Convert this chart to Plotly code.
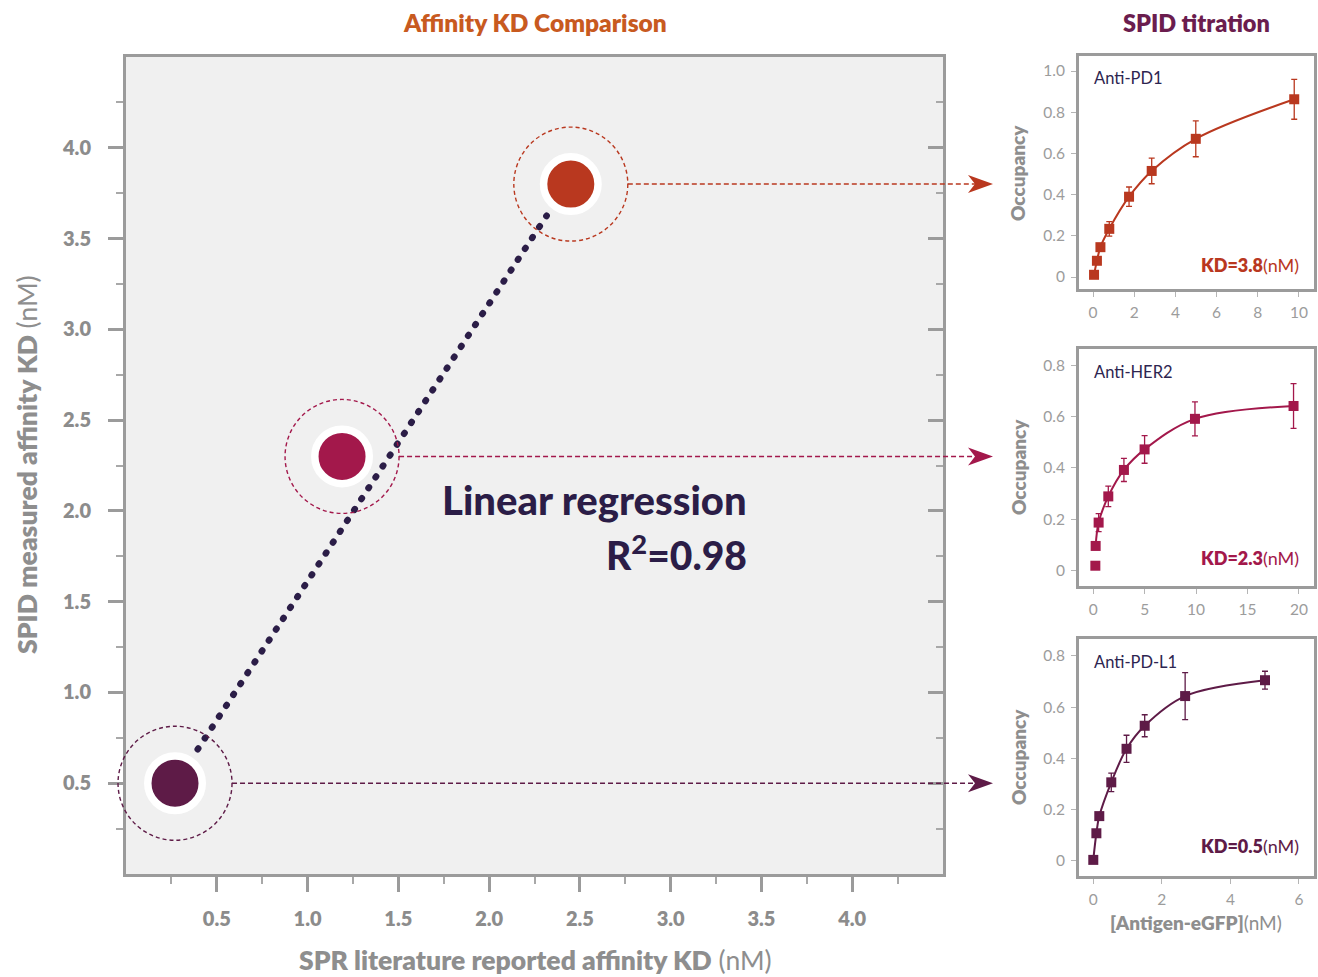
import plotly.graph_objects as go

W, H = 1318, 977

# ---------------- data ----------------
antibodies = ["Anti-PD-L1", "Anti-HER2", "Anti-PD1"]
spr_kd = [0.27, 1.19, 2.45]          # SPR literature KD (nM)
spid_kd = [0.5, 2.3, 3.8]            # SPID measured KD (nM)
point_colors = ["#5e1b47", "#a3184b", "#b9381f"]

reg_x = [0.395, 2.317]               # regression line ends (nM)
reg_y = [0.687, 3.626]
r2_text = "0.98"

main_ticks = [0.5, 1.0, 1.5, 2.0, 2.5, 3.0, 3.5, 4.0]
main_tick_text = ["0.5", "1.0", "1.5", "2.0", "2.5", "3.0", "3.5", "4.0"]
main_minor = [0.25, 0.75, 1.25, 1.75, 2.25, 2.75, 3.25, 3.75, 4.25]

# SPID titrations
pd1_conc = [0.05, 0.19, 0.36, 0.79, 1.75, 2.85, 4.99, 9.77]
pd1_occ = [0.011, 0.079, 0.145, 0.234, 0.390, 0.515, 0.671, 0.863]
pd1_err = [0.008, 0.010, 0.012, 0.035, 0.047, 0.062, 0.087, 0.097]

her2_conc = [0.20, 0.23, 0.52, 1.46, 2.98, 4.99, 9.89, 19.48]
her2_occ = [0.019, 0.096, 0.187, 0.289, 0.392, 0.472, 0.591, 0.641]
her2_err = [0.008, 0.010, 0.035, 0.040, 0.045, 0.054, 0.066, 0.087]

pdl1_conc = [0.0, 0.09, 0.175, 0.525, 0.97, 1.50, 2.68, 5.01]
pdl1_occ = [0.003, 0.107, 0.174, 0.306, 0.437, 0.527, 0.643, 0.705]
pdl1_err = [0.005, 0.010, 0.010, 0.036, 0.053, 0.043, 0.092, 0.035]

panel_kd = ["3.8", "2.3", "0.5"]

FRAME = "#9b9b9b"
TICKGREY = "#8c8c8c"
NAVY = "#2b1d47"
FONT = "Lato"

# ---------------- layout helpers ----------------
main_xdom = [126 / W, 943 / W]
main_ydom = [1 - 874 / H, 1 - 57 / H]
main_range = [0, 4.5]


def main_to_paper_x(v):
    return main_xdom[0] + (v - main_range[0]) / (main_range[1] - main_range[0]) * (main_xdom[1] - main_xdom[0])


def main_to_paper_y(v):
    return main_ydom[0] + (v - main_range[0]) / (main_range[1] - main_range[0]) * (main_ydom[1] - main_ydom[0])


fig = go.Figure()

# regression dotted line
fig.add_trace(go.Scatter(
    x=reg_x, y=reg_y, mode="lines", uid="regline",
    line=dict(color=NAVY, width=6.5, dash="1px,12px"),
    hoverinfo="skip", showlegend=False, xaxis="x", yaxis="y"))

# main points
fig.add_trace(go.Scatter(
    x=spr_kd, y=spid_kd, mode="markers", text=antibodies,
    marker=dict(size=54.5, color=point_colors, line=dict(color="white", width=7.5)),
    cliponaxis=False, showlegend=False, xaxis="x", yaxis="y"))

# invisible trace for right-hand tick axis
fig.add_trace(go.Scatter(x=[None], y=[None], xaxis="x", yaxis="y5", showlegend=False, hoverinfo="skip"))

# titration panels
panels = [
    (pd1_conc, pd1_occ, pd1_err, point_colors[2], "x2", "y2", 0),
    (her2_conc, her2_occ, her2_err, point_colors[1], "x3", "y3", 1),
    (pdl1_conc, pdl1_occ, pdl1_err, point_colors[0], "x4", "y4", 0),
]
for conc, occ, err, col, xa, ya, skip in panels:
    fig.add_trace(go.Scatter(
        x=conc[skip:], y=occ[skip:], mode="lines",
        line=dict(color=col, width=2, shape="spline", smoothing=1.0),
        hoverinfo="skip", showlegend=False, xaxis=xa, yaxis=ya, cliponaxis=False))
    fig.add_trace(go.Scatter(
        x=conc, y=occ, mode="markers",
        marker=dict(symbol="square", size=10, color=col),
        error_y=dict(type="data", array=err, visible=True, color=col, thickness=1.3, width=3),
        showlegend=False, xaxis=xa, yaxis=ya, cliponaxis=False))

shapes = []
annotations = []

# main background
shapes.append(dict(type="rect", xref="x domain", yref="y domain", x0=0, x1=1, y0=0, y1=1,
                   fillcolor="#f0f0f0", line=dict(width=0), layer="below"))

# dashed circles, dashed connectors and arrowheads
R_PX = 57
ARROW_PATH = "M0,0 L-25,9 L-18,0 L-25,-9 Z"
for xv, yv, col in zip(spr_kd, spid_kd, point_colors):
    px = main_to_paper_x(xv)
    py = main_to_paper_y(yv)
    shapes.append(dict(type="circle", xref="paper", yref="paper",
                       xsizemode="pixel", ysizemode="pixel", xanchor=px, yanchor=py,
                       x0=-R_PX, x1=R_PX, y0=-R_PX, y1=R_PX,
                       line=dict(color=col, width=1.4, dash="4px,3px"), layer="above"))
    shapes.append(dict(type="line", xref="paper", yref="y",
                       x0=px + R_PX / W, x1=978 / W, y0=yv, y1=yv,
                       line=dict(color=col, width=1.5, dash="5px,3px"), layer="above"))
    shapes.append(dict(type="path", xref="paper", yref="y",
                       xsizemode="pixel", ysizemode="pixel", xanchor=993 / W, yanchor=yv,
                       path=ARROW_PATH, fillcolor=col, line=dict(width=0), layer="above"))


def ann(text, x, y, size, color, xanchor="center", yanchor="middle", angle=0, weight="normal"):
    annotations.append(dict(text=text, x=x / W, y=1 - y / H, xref="paper", yref="paper",
                            xanchor=xanchor, yanchor=yanchor, showarrow=False, textangle=angle,
                            font=dict(family=FONT, size=size, color=color, weight=weight)))


ann("Affinity KD Comparison", 535, 23, 24.5, "#c85a1f", weight=800)
ann("SPID titration", 1196, 23, 23.5, "#6b1d4e", weight=800)
ann("<span style='font-weight:800'>SPR literature reported affinity KD</span> (nM)", 535, 960, 26.5, "#8e8e8e")
ann("<span style='font-weight:800'>SPID measured affinity KD</span> (nM)", 27, 465, 26.5, "#8e8e8e", angle=-90)
ann("Linear regression", 749, 500, 40, NAVY, xanchor="right", weight=900)
ann("R<sup>2</sup>=" + r2_text, 749, 552, 39, NAVY, xanchor="right", weight=900)

panel_names = ["Anti-PD1", "Anti-HER2", "Anti-PD-L1"]
name_y = [78, 372, 662]
kd_y = [265, 558, 846]
occ_y = [173, 467, 757]
kd_cols = [point_colors[2], point_colors[1], point_colors[0]]
for nm, ny, kdv, ky, oy, kc in zip(panel_names, name_y, panel_kd, kd_y, occ_y, kd_cols):
    ann(nm, 1092, ny, 16.5, "#2d2550", xanchor="left")
    ann("<span style='font-weight:800'>KD=" + kdv + "</span>(nM)", 1301, ky, 18, kc, xanchor="right")
    ann("<span style='font-weight:800'>Occupancy</span>", 1018, oy, 19, "#8e8e8e", angle=-90)
ann("<span style='font-weight:800'>[Antigen-eGFP]</span>(nM)", 1196, 922, 19, "#8e8e8e")

main_tickfont = dict(family=FONT, size=20, color=TICKGREY, weight=800)

layout = dict(
    width=W, height=H, margin=dict(l=0, r=0, t=0, b=0),
    paper_bgcolor="white", plot_bgcolor="white",
    font=dict(family=FONT),
    showlegend=False,
    xaxis=dict(domain=main_xdom, range=main_range, anchor="y", showgrid=False, zeroline=False,
               showline=True, mirror=True, linecolor=FRAME, linewidth=3,
               ticks="outside", ticklen=15, tickwidth=3, tickcolor=FRAME, ticklabelstandoff=10,
               tickmode="array", tickvals=main_ticks, ticktext=main_tick_text, tickfont=main_tickfont,
               minor=dict(tickmode="array", tickvals=main_minor, ticks="outside", ticklen=7,
                          tickwidth=1.5, tickcolor="#a8a8a8")),
    yaxis=dict(domain=main_ydom, range=main_range, anchor="x", showgrid=False, zeroline=False,
               showline=True, mirror=True, linecolor=FRAME, linewidth=3,
               ticks="outside", ticklen=15, tickwidth=3, tickcolor=FRAME, ticklabelstandoff=13,
               tickmode="array", tickvals=main_ticks, ticktext=main_tick_text, tickfont=main_tickfont,
               minor=dict(tickmode="array", tickvals=main_minor, ticks="outside", ticklen=7,
                          tickwidth=1.5, tickcolor="#a8a8a8")),
    yaxis5=dict(overlaying="y", side="right", anchor="x", range=main_range, showgrid=False, zeroline=False,
                showline=False, showticklabels=False,
                ticks="inside", ticklen=15, tickwidth=3, tickcolor=FRAME,
                tickmode="array", tickvals=main_ticks,
                minor=dict(tickmode="array", tickvals=main_minor, ticks="inside", ticklen=7,
                           tickwidth=1.5, tickcolor="#a8a8a8")),
    shapes=shapes, annotations=annotations,
)

small_font = dict(family=FONT, size=15.5, color="#9c9c9c")
panel_specs = [
    ("xaxis2", "yaxis2", "x2", "y2", [1 - 289 / H, 1 - 56 / H], [-0.68, 10.73], [-0.058, 1.073],
     [0, 2, 4, 6, 8, 10], [0, 0.2, 0.4, 0.6, 0.8, 1.0], ["0", "0.2", "0.4", "0.6", "0.8", "1.0"]),
    ("xaxis3", "yaxis3", "x3", "y3", [1 - 586 / H, 1 - 349 / H], [-1.39, 21.47], [-0.06, 0.863],
     [0, 5, 10, 15, 20], [0, 0.2, 0.4, 0.6, 0.8], ["0", "0.2", "0.4", "0.6", "0.8"]),
    ("xaxis4", "yaxis4", "x4", "y4", [1 - 876 / H, 1 - 639 / H], [-0.417, 6.44], [-0.06, 0.866],
     [0, 2, 4, 6], [0, 0.2, 0.4, 0.6, 0.8], ["0", "0.2", "0.4", "0.6", "0.8"]),
]
for xk, yk, xid, yid, ydom, xr, yr, xt, yt, ytt in panel_specs:
    layout[xk] = dict(domain=[1079 / W, 1314 / W], range=xr, anchor=yid, showgrid=False, zeroline=False,
                      showline=True, mirror=True, linecolor=FRAME, linewidth=3,
                      ticks="outside", ticklen=5, tickwidth=1.2, tickcolor="#b5b5b5", ticklabelstandoff=2,
                      tickmode="array", tickvals=xt, tickfont=small_font)
    layout[yk] = dict(domain=ydom, range=yr, anchor=xid, showgrid=False, zeroline=False,
                      showline=True, mirror=True, linecolor=FRAME, linewidth=3,
                      ticks="outside", ticklen=5, tickwidth=1.2, tickcolor="#b5b5b5", ticklabelstandoff=3,
                      tickmode="array", tickvals=yt, ticktext=ytt, tickfont=small_font)

fig.update_layout(**layout)

post = """
var st = document.createElement('style');
st.innerHTML = 'body{margin:0;padding:0;overflow:hidden} .js-line{stroke-linecap:round}';
document.head.appendChild(st);
"""
fig.write_html("out.html", post_script=post, config={"displayModeBar": False})
